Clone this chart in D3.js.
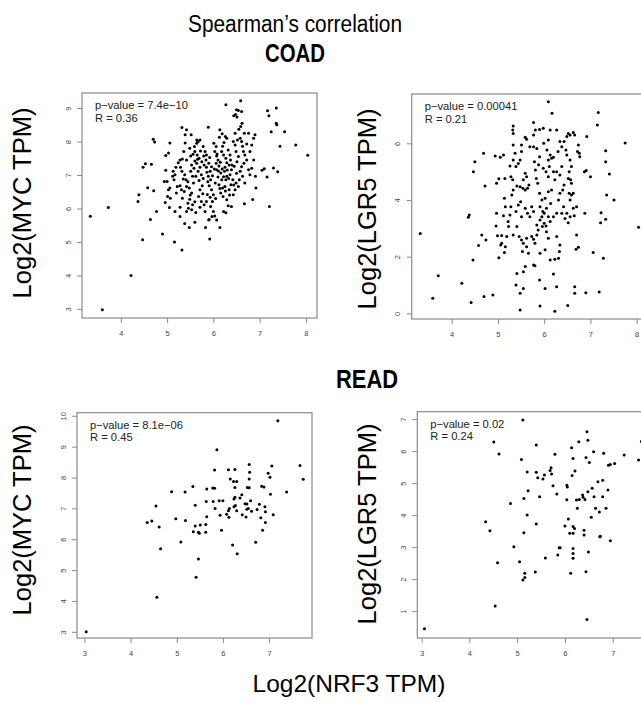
<!DOCTYPE html>
<html>
<head>
<meta charset="utf-8">
<script src="https://cdn.jsdelivr.net/npm/d3@7"></script>
<style>
  body { margin: 0; background: #fff; }
  svg { display: block; font-family: "Liberation Sans", Arial, sans-serif; }
</style>
</head>
<body>
<div id="chart"></div>
<script>
// COAD, NRF3 vs MYC
const coadMyc = [
  [3.34,5.77],[3.73,6.03],[3.6,2.98],[4.22,4.0],[4.47,5.07],[4.37,6.21],[4.39,6.41],[4.48,7.23],
  [4.53,7.34],[4.58,6.62],[4.64,5.67],[4.66,7.32],[4.7,8.07],[4.73,7.99],[4.71,6.53],[4.77,5.91],
  [4.9,5.24],[4.96,6.18],[4.97,7.14],[4.97,7.58],[5.0,6.81],[5.03,7.66],[5.06,7.96],[5.05,6.03],
  [5.16,5.0],[5.32,4.76],[5.28,6.04],[5.38,5.55],[5.48,5.43],[5.6,5.59],[5.32,8.42],[5.42,8.35],
  [5.39,8.2],[5.39,7.96],[5.52,8.2],[5.89,8.43],[6.27,9.1],[6.59,9.22],[7.17,8.92],[7.36,9.0],
  [7.2,8.77],[7.25,8.29],[7.36,8.55],[7.37,8.5],[7.54,8.29],[7.44,7.86],[7.78,7.9],[8.04,7.59],
  [7.1,7.19],[7.05,7.14],[7.3,7.21],[7.39,7.1],[7.16,6.94],[7.21,6.06],[6.91,6.96],[6.92,6.61],
  [6.85,6.27],[6.67,6.14],[6.14,5.43],[5.92,5.09],[5.83,5.43],[5.91,5.67],[6.27,5.87],[6.32,6.08],
  [4.94,6.81],[5.06,6.61],[5.03,6.56],[5.01,6.36],[5.07,6.31],[5.13,7.11],[5.17,7.01],[5.12,6.96],
  [5.19,7.23],[5.15,6.86],[5.22,6.66],[5.2,6.46],[5.24,7.37],[5.28,7.45],[5.29,7.23],[5.32,7.11],
  [5.35,6.88],[5.28,6.68],[5.31,6.56],[5.33,6.31],[5.37,6.51],[5.42,6.66],[5.41,6.86],[5.38,7.01],
  [5.33,7.48],[5.36,7.7],[5.49,7.8],[5.42,7.45],[5.51,7.57],[5.53,7.3],[5.51,7.11],[5.55,6.96],
  [5.57,6.76],[5.48,6.61],[5.53,6.46],[5.49,6.28],[5.45,6.16],[5.55,6.11],[5.46,6.01],[5.53,5.96],
  [5.62,5.88],[5.42,5.91],[5.59,7.85],[5.64,7.95],[5.67,8.0],[5.6,7.7],[5.65,7.6],[5.69,7.5],
  [5.64,7.35],[5.71,7.23],[5.67,7.11],[5.74,7.01],[5.62,6.96],[5.69,6.84],[5.76,6.68],[5.71,6.56],
  [5.77,6.44],[5.68,6.36],[5.74,6.21],[5.8,6.11],[5.71,6.04],[5.82,5.91],[5.85,6.21],[5.78,7.85],
  [5.82,7.7],[5.85,7.6],[5.84,7.45],[5.9,7.35],[5.85,7.23],[5.93,7.11],[5.89,6.96],[5.94,6.86],
  [5.91,6.68],[5.96,6.56],[6.0,6.41],[5.93,6.34],[5.98,6.21],[5.94,6.06],[6.0,5.91],[6.03,5.78],
  [5.97,5.76],[5.9,5.66],[6.01,7.95],[6.06,7.85],[6.03,7.7],[6.07,7.57],[6.1,7.45],[6.06,7.35],
  [6.12,7.27],[6.07,7.16],[6.16,7.06],[6.1,6.94],[6.18,6.86],[6.12,6.71],[6.2,6.61],[6.16,6.46],
  [6.21,6.36],[6.25,6.66],[6.27,6.86],[6.29,6.96],[6.24,7.11],[6.25,7.23],[6.29,7.37],[6.27,7.5],
  [6.22,7.6],[6.18,7.7],[6.2,7.86],[6.23,7.97],[6.13,8.13],[6.26,8.15],[6.29,8.1],[6.32,7.75],
  [6.36,7.6],[6.37,7.45],[6.34,7.3],[6.39,7.16],[6.36,7.01],[6.42,6.86],[6.38,6.71],[6.34,6.56],
  [6.43,6.41],[6.47,6.56],[6.49,6.76],[6.45,7.26],[6.51,7.4],[6.54,7.55],[6.49,7.7],[6.47,7.9],
  [6.43,8.0],[6.52,8.05],[6.58,8.1],[6.61,8.0],[6.63,7.86],[6.65,7.7],[6.68,7.6],[6.72,7.45],
  [6.66,7.35],[6.61,7.25],[6.58,7.11],[6.63,6.96],[6.56,6.86],[6.54,6.66],[6.68,6.76],[6.76,7.16],
  [6.79,7.01],[6.83,7.2],[6.87,7.45],[6.79,7.7],[6.83,7.9],[6.72,7.93],[6.9,8.2],[6.5,8.95],
  [6.54,8.93],[6.61,8.9],[6.48,8.81],[6.51,8.73],[6.44,8.77],[6.62,8.55],[6.59,8.45],[6.14,8.35],
  [6.19,8.23],[6.55,8.37],[6.47,8.25],[6.67,8.25],[6.76,8.25],[6.87,8.1],[5.71,8.05],[5.64,8.05],
  [5.17,5.91],[5.28,5.76],[6.07,5.66],[6.22,5.91],[6.39,6.06],[6.29,6.26],
  [5.56,7.62],[5.6,7.42],[5.58,7.2],[5.66,7.47],[5.72,7.72],[5.75,7.4],[5.79,7.57],[5.8,7.3],
  [5.78,6.9],[5.86,7.08],[5.88,6.8],[5.92,7.52],[5.96,7.25],[5.98,6.98],[6.02,7.18],[6.04,6.76],
  [6.08,7.63],[6.11,7.12],[6.14,6.6],[6.15,7.38],[6.19,7.18],[6.22,6.95],[6.26,6.52],[6.3,7.15],
  [6.33,6.9],[6.4,7.3],[6.44,6.7],[6.5,7.05],[5.45,6.8],[5.5,6.4],[5.6,6.2],[5.87,6.42],
  [6.05,6.3],[6.35,6.4]
];

// COAD, NRF3 vs LGR5
const coadLgr5 = [
  [3.32,2.82],[3.59,0.53],[3.71,1.33],[4.22,1.06],[4.42,0.38],[4.7,0.59],[4.89,0.65],[4.46,1.88],
  [4.58,2.39],[4.65,2.76],[4.74,2.59],[4.36,3.39],[4.38,3.47],[4.72,4.49],[4.69,5.65],[4.5,5.35],
  [4.47,5.0],[4.94,5.55],[5.05,5.51],[5.12,5.59],[4.97,4.59],[5.02,4.75],[5.15,4.76],[4.97,3.53],
  [4.96,3.08],[5.02,1.96],[4.99,2.74],[5.08,2.75],[5.12,3.44],[5.14,4.06],[5.16,3.76],[5.08,2.47],
  [5.06,2.41],[5.14,2.15],[5.16,2.35],[5.19,2.71],[5.23,3.06],[5.22,3.24],[5.26,3.47],[5.28,3.76],
  [5.3,4.18],[5.33,4.35],[5.32,4.71],[5.28,4.82],[5.26,5.2],[5.33,5.41],[5.37,5.65],[5.33,5.94],
  [5.32,6.47],[5.33,6.61],[5.33,6.35],[5.39,5.18],[5.44,5.29],[5.48,5.41],[5.51,5.94],[5.51,5.71],
  [5.48,4.47],[5.41,4.49],[5.54,4.41],[5.59,4.35],[5.64,4.41],[5.67,4.53],[5.62,4.82],[5.59,4.94],
  [5.55,4.71],[5.49,3.94],[5.44,3.82],[5.39,3.59],[5.51,3.41],[5.59,3.71],[5.64,3.53],[5.69,3.41],
  [5.73,3.76],[5.77,3.59],[5.41,3.06],[5.33,2.76],[5.46,2.71],[5.51,2.59],[5.55,2.47],[5.62,2.35],
  [5.66,2.12],[5.53,2.18],[5.62,2.65],[5.73,2.71],[5.77,2.61],[5.8,2.47],[5.84,2.76],[5.87,2.94],
  [5.84,3.12],[5.91,3.29],[5.95,3.41],[5.97,3.59],[5.91,3.76],[5.95,4.0],[5.9,4.24],[5.86,4.59],
  [5.83,4.76],[5.81,5.06],[5.88,5.24],[5.79,5.35],[5.9,5.53],[5.84,5.82],[5.77,5.88],[5.69,5.88],
  [5.62,6.14],[5.59,6.21],[5.77,6.29],[5.81,6.47],[5.9,6.49],[5.98,6.53],[5.77,6.73],[6.09,7.47],
  [6.17,7.06],[6.09,6.12],[6.13,6.47],[5.99,6.0],[6.06,5.76],[6.13,5.59],[6.09,5.41],[6.16,5.47],
  [6.2,5.51],[6.11,5.18],[5.98,5.12],[6.04,5.0],[6.2,5.0],[6.09,4.82],[6.23,4.71],[6.16,4.35],
  [6.09,4.29],[6.02,4.06],[6.14,3.88],[6.05,3.71],[6.0,3.53],[6.09,3.41],[6.13,3.24],[6.2,3.41],
  [6.0,3.18],[6.04,3.08],[5.96,3.06],[6.05,2.88],[6.09,2.65],[6.02,2.24],[5.91,2.12],[6.13,1.88],
  [6.23,1.91],[6.27,2.71],[6.34,2.41],[6.33,2.18],[6.31,1.94],[6.38,3.53],[6.42,3.76],[6.27,3.53],
  [6.31,4.0],[6.34,4.24],[6.4,4.35],[6.43,4.53],[6.27,5.0],[6.34,4.88],[6.38,5.18],[6.3,5.71],
  [6.38,5.88],[6.34,6.06],[6.27,6.47],[6.43,6.06],[6.47,5.76],[6.49,6.24],[6.52,6.35],[6.56,6.29],
  [6.63,6.38],[6.66,6.29],[6.49,5.59],[6.56,5.41],[6.59,5.18],[6.54,5.0],[6.52,4.76],[6.57,4.71],
  [6.59,4.59],[6.54,4.24],[6.59,4.18],[6.63,4.24],[6.56,4.0],[6.49,3.53],[6.56,3.41],[6.45,3.35],
  [6.52,3.2],[6.65,3.44],[6.7,3.76],[6.7,2.76],[6.69,2.26],[6.74,2.33],[6.63,3.71],[6.77,5.53],
  [6.76,5.65],[6.72,5.71],[6.74,5.94],[6.92,6.24],[6.87,5.0],[6.91,5.04],[7.0,4.82],[6.88,3.53],
  [7.06,2.15],[7.28,1.94],[5.48,0.12],[5.91,0.26],[6.23,0.07],[6.51,0.28],[5.9,1.18],[6.2,1.39],
  [5.77,1.71],[5.8,1.68],[5.55,1.47],[5.59,1.65],[5.41,1.41],[5.39,1.0],[5.55,0.88],[5.48,0.71],
  [6.02,0.88],[6.27,0.94],[6.66,0.94],[6.66,0.71],[6.9,0.73],[7.19,0.75],[7.17,7.09],[7.15,6.65],
  [7.75,6.01],[7.33,5.74],[7.33,5.35],[7.41,4.92],[7.35,4.18],[7.51,4.0],[7.23,3.55],[7.33,3.32],
  [7.22,3.2],[8.04,3.04]
];

// READ, NRF3 vs MYC
const readMyc = [
  [3.04,3.0],[4.36,6.54],[4.46,6.59],[4.55,7.08],[4.62,6.4],[4.65,5.69],[4.57,4.12],[4.89,7.54],
  [4.98,6.66],[5.09,5.91],[5.18,7.53],[5.19,6.61],[5.35,7.71],[5.36,6.24],[5.4,6.43],[5.4,7.1],
  [5.47,6.23],[5.51,6.46],[5.49,6.19],[5.47,5.36],[5.42,4.77],[5.63,6.23],[5.63,6.48],[5.65,6.73],
  [5.64,7.22],[5.65,7.63],[5.78,7.66],[5.82,7.65],[5.82,8.24],[5.79,7.22],[5.83,7.0],[5.87,8.9],
  [5.92,7.25],[6.0,7.25],[5.94,6.78],[5.97,6.29],[6.08,6.81],[6.12,6.92],[6.14,7.0],[6.13,6.71],
  [6.12,8.25],[6.16,7.95],[6.23,7.87],[6.3,7.87],[6.26,8.26],[6.26,7.68],[6.26,7.36],[6.24,7.3],
  [6.27,7.09],[6.24,7.05],[6.3,6.92],[6.37,7.34],[6.41,7.44],[6.42,6.79],[6.5,6.72],[6.52,7.14],
  [6.52,6.97],[6.53,7.68],[6.57,7.67],[6.57,7.95],[6.58,8.17],[6.57,8.42],[6.6,7.25],[6.62,6.91],
  [6.55,7.0],[6.48,7.15],[6.21,5.81],[6.31,5.53],[6.74,6.96],[6.79,7.13],[6.84,7.72],[6.89,7.69],
  [6.82,6.7],[6.86,6.29],[6.71,5.9],[6.91,7.05],[6.92,6.89],[6.92,6.54],[6.98,8.14],[7.02,8.01],
  [7.03,7.46],[7.06,8.37],[7.09,6.79],[7.19,9.84],[7.38,7.53],[7.67,8.39],[7.74,7.94]
];

// READ, NRF3 vs LGR5
const readLgr5 = [
  [3.06,0.45],[4.34,3.79],[4.43,3.51],[4.51,6.28],[4.62,5.91],[4.54,1.16],[4.59,2.51],[4.86,4.36],
  [4.93,3.01],[5.05,2.54],[5.12,6.97],[5.09,5.74],[5.14,3.45],[5.14,4.52],[5.21,5.35],[5.23,4.76],
  [5.21,4.0],[5.12,1.97],[5.16,2.05],[5.16,2.18],[5.4,6.19],[5.4,5.34],[5.43,5.17],[5.4,3.72],
  [5.38,2.22],[5.47,4.57],[5.57,5.25],[5.54,5.13],[5.59,2.66],[5.69,5.39],[5.71,5.48],[5.72,5.28],
  [5.75,4.92],[5.79,5.9],[5.83,4.66],[5.85,2.75],[5.88,2.98],[5.9,2.98],[6.0,3.66],[6.04,4.93],
  [6.05,4.88],[6.04,4.48],[6.07,3.88],[6.1,3.43],[6.14,6.1],[6.17,5.77],[6.15,5.24],[6.17,3.64],
  [6.2,3.58],[6.17,3.43],[6.17,2.96],[6.17,2.8],[6.17,2.65],[6.12,2.18],[6.21,5.38],[6.24,4.47],
  [6.26,4.21],[6.29,6.29],[6.3,4.49],[6.37,4.63],[6.38,4.56],[6.42,4.49],[6.4,3.53],[6.4,3.38],
  [6.44,5.8],[6.44,2.23],[6.46,6.6],[6.48,6.34],[6.48,4.73],[6.51,5.64],[6.49,2.85],[6.46,0.74],
  [6.57,4.84],[6.55,3.93],[6.6,5.98],[6.61,4.57],[6.64,4.21],[6.69,5.04],[6.72,4.1],[6.73,3.32],
  [6.74,3.34],[6.79,5.09],[6.79,4.57],[6.81,5.93],[6.86,4.21],[6.9,4.78],[6.95,3.2],[6.91,5.56],
  [6.95,5.58],[7.04,5.61],[7.24,5.88],[7.54,5.72],[7.6,6.3]
];

const panels = [
  {data: coadMyc, box: [82, 317, 93, 318], xDomain: [3.16, 8.24], yDomain: [2.73, 9.45],
   xTicks: [4, 5, 6, 7, 8], yTicks: [3, 4, 5, 6, 7, 8, 9],
   pValue: "7.4e\u221210", r: "0.36", yLabel: "Log2(MYC TPM)", labelX: 31, labelY: 203},
  {data: coadLgr5, box: [411.7, 647.3, 94, 319], xDomain: [3.135, 8.23], yDomain: [-0.2, 7.74],
   xTicks: [4, 5, 6, 7, 8], yTicks: [0, 2, 4, 6],
   pValue: "0.00041", r: "0.21", yLabel: "Log2(LGR5 TPM)", labelX: 376, labelY: 209},
  {data: readMyc, box: [77, 312, 412.7, 638], xDomain: [2.84, 7.93], yDomain: [2.8, 10.1],
   xTicks: [3, 4, 5, 6, 7], yTicks: [3, 4, 5, 6, 7, 8, 9, 10],
   pValue: "8.1e\u221206", r: "0.45", yLabel: "Log2(MYC TPM)", labelX: 31, labelY: 520},
  {data: readLgr5, box: [417.3, 650, 411.7, 638], xDomain: [2.91, 7.78], yDomain: [0.16, 7.23],
   xTicks: [3, 4, 5, 6, 7], yTicks: [1, 2, 3, 4, 5, 6, 7],
   pValue: "0.02", r: "0.24", yLabel: "Log2(LGR5 TPM)", labelX: 376, labelY: 524}
];

const width = 641, height = 702;

const svg = d3.select("#chart").append("svg")
    .attr("width", width)
    .attr("height", height);

svg.append("text")
    .attr("x", 295).attr("y", 32)
    .attr("text-anchor", "middle")
    .attr("font-size", 23)
    .attr("textLength", 214).attr("lengthAdjust", "spacingAndGlyphs")
    .text("Spearman\u2019s correlation");

svg.append("text")
    .attr("x", 295).attr("y", 62)
    .attr("text-anchor", "middle")
    .attr("font-size", 25).attr("font-weight", "bold")
    .attr("textLength", 60).attr("lengthAdjust", "spacingAndGlyphs")
    .text("COAD");

svg.append("text")
    .attr("x", 367).attr("y", 388)
    .attr("text-anchor", "middle")
    .attr("font-size", 25).attr("font-weight", "bold")
    .attr("textLength", 62).attr("lengthAdjust", "spacingAndGlyphs")
    .text("READ");

svg.append("text")
    .attr("x", 349).attr("y", 692)
    .attr("text-anchor", "middle")
    .attr("font-size", 24.5)
    .text("Log2(NRF3 TPM)");

const fmt = d3.format("d");

panels.forEach(p => {
    const [x0, x1, y0, y1] = p.box;
    const x = d3.scaleLinear().domain(p.xDomain).range([x0, x1]);
    const y = d3.scaleLinear().domain(p.yDomain).range([y1, y0]);
    const g = svg.append("g");

    // x axis
    const xa = g.append("g")
        .attr("transform", `translate(0,${y1})`)
        .call(d3.axisBottom(x).tickValues(p.xTicks).tickFormat(fmt)
            .tickSize(5).tickSizeOuter(0).tickPadding(8));
    xa.select(".domain").remove();
    xa.selectAll("line").attr("stroke", "#8a8a8a");
    xa.selectAll("text").attr("fill", "#444").attr("font-size", 7.5)
        .attr("font-family", "'Liberation Sans', Arial, sans-serif");

    // y axis, labels turned like R's las = 0
    const ya = g.append("g")
        .attr("transform", `translate(${x0},0)`)
        .call(d3.axisLeft(y).tickValues(p.yTicks).tickFormat(fmt)
            .tickSize(5).tickSizeOuter(0));
    ya.select(".domain").remove();
    ya.selectAll("line").attr("stroke", "#8a8a8a");
    ya.selectAll("text")
        .attr("fill", "#444").attr("font-size", 7.5)
        .attr("font-family", "'Liberation Sans', Arial, sans-serif")
        .attr("text-anchor", "middle")
        .attr("transform", "rotate(-90)")
        .attr("x", 0).attr("y", -14).attr("dy", "0.35em");

    // box
    g.append("rect")
        .attr("x", x0).attr("y", y0)
        .attr("width", x1 - x0).attr("height", y1 - y0)
        .attr("fill", "none")
        .attr("stroke", "#8a8a8a")
        .attr("stroke-width", 1.2);

    g.append("g").selectAll("circle").data(p.data)
        .join("circle")
        .attr("cx", d => x(d[0]))
        .attr("cy", d => y(d[1]))
        .attr("r", 1.5)
        .attr("fill", "#000");

    g.append("text")
        .attr("x", x0 + 13).attr("y", y0 + 16)
        .attr("font-size", 11.2).attr("fill", "#222")
        .text(`p\u2212value = ${p.pValue}`);
    g.append("text")
        .attr("x", x0 + 13).attr("y", y0 + 28.5)
        .attr("font-size", 11.2).attr("fill", "#222")
        .text(`R = ${p.r}`);

    svg.append("text")
        .attr("transform", `translate(${p.labelX},${p.labelY}) rotate(-90)`)
        .attr("text-anchor", "middle")
        .attr("font-size", 25.5)
        .text(p.yLabel);
});
</script>
</body>
</html>
